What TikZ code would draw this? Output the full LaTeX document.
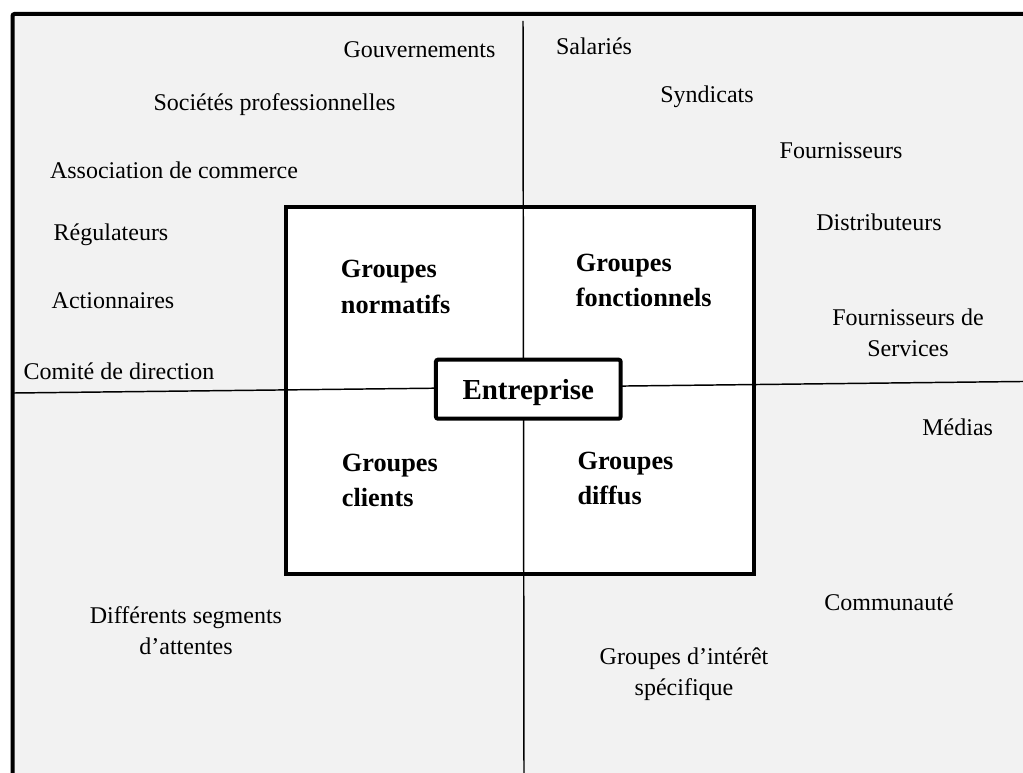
\documentclass[tikz,border=0pt]{standalone}
\usepackage{fontspec}
\setmainfont{Liberation Serif}
\definecolor{paper}{HTML}{F2F2F2}
\begin{document}
\begin{tikzpicture}[x=0.75pt,y=-0.75pt,
  lbl/.style={font=\fontsize{18}{23.25}\selectfont, inner sep=0pt, anchor=base, align=center},
  grp/.style={font=\fontsize{19.7}{26.25}\selectfont\bfseries, inner sep=0pt, anchor=base west, align=left},
  axis/.style={line width=1.1pt},
  frame/.style={line width=3pt}]
\useasboundingbox (0,0) rectangle (1023,773);
\fill[white] (0,0) rectangle (1023,773);
\fill[paper] (12.5,14) rectangle (1023,773);
\draw[frame, rounded corners=1.5pt] (12.5,780) -- (12.5,14) -- (1030,14);

% central square
\draw[frame, fill=white] (286,207.5) rectangle (754,573.5);

% axes
\coordinate (T) at (523,21);
\coordinate (B) at (524,780);
\coordinate (L) at (14,393);
\coordinate (R) at (1030,381.4);
\draw[axis] (T) -- (B);
\draw[axis] (L) -- (R);

% centre
\node (ent) [draw, frame, fill=white, rounded corners=1.5pt, inner sep=0pt,
  minimum width=138.5pt, minimum height=44.25pt, text depth=0pt, text height=15.15pt,
  font=\fontsize{21.75}{26}\selectfont\bfseries] at (528.3,389.2) {Entreprise};

% groups (base = baseline of last line)
\node (gn) [grp] at (340.7,313) {Groupes\\normatifs};
\node (gf) [grp] at (575.7,306.7) {Groupes\\fonctionnels};
\node (gc) [grp] at (341.7,506.7) {Groupes\\clients};
\node (gd) [grp] at (577.3,504) {Groupes\\diffus};

% stakeholders
\node (gouv) [lbl] at (419.5,57.5) {Gouvernements};
\node (sal) [lbl] at (594,55) {Salariés};
\node (soc) [lbl] at (274.5,110.5) {Sociétés professionnelles};
\node (syn) [lbl] at (707,103) {Syndicats};
\node (fou) [lbl] at (841,158.3) {Fournisseurs};
\node (ass) [lbl] at (174,179) {Association de commerce};
\node (dis) [lbl] at (879,230.7) {Distributeurs};
\node (reg) [lbl] at (111,240.5) {Régulateurs};
\node (act) [lbl] at (113,309) {Actionnaires};
\node (fds) [lbl] at (908,356) {Fournisseurs de\\Services};
\node (com) [lbl] at (119,379) {Comité de direction};
\node (med) [lbl] at (957.7,435) {Médias};
\node (cmt) [lbl] at (889,610) {Communauté};
\node (dif) [lbl] at (186,654) {Différents segments\\d’attentes};
\node (gis) [lbl] at (684,695) {Groupes d’intérêt\\spécifique};
\end{tikzpicture}
\end{document}
